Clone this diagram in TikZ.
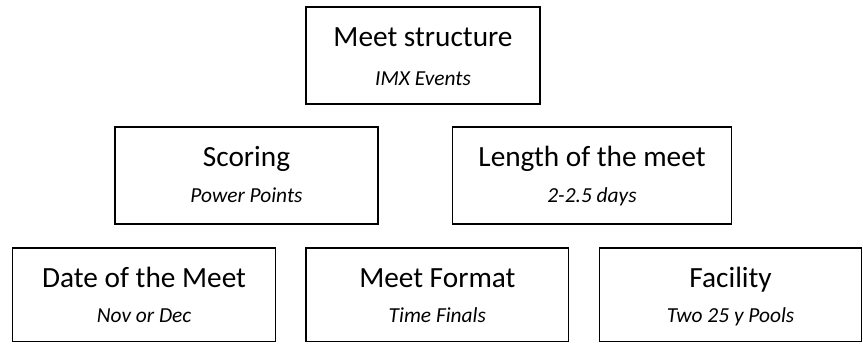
\documentclass[tikz,border=0pt]{standalone}
\usepackage{fontspec}
\setmainfont{Carlito}
\usetikzlibrary{fit}
\tikzset{
  boxst/.style={draw=black, line width=1.3pt, inner sep=0pt, rectangle},
  titlest/.style={anchor=base, inner sep=0pt, font=\fontsize{29.3}{32}\selectfont},
  subst/.style={anchor=base, inner sep=0pt, font=\fontsize{21.4}{24}\selectfont\itshape},
}
\newcommand\drawbox[8]{%
  \node[boxst, fit={(#2,#3) (#4,#5)}] (#1) {};
  \path (#1.north) ++(0,40) node[titlest] (#1t) {#6};
  \path (#1.north) ++(0,#8) node[subst] (#1s) {#7};
}
\begin{document}
\begin{tikzpicture}[x=1pt, y=-1pt]
\useasboundingbox (0,0) rectangle (863,344);
\drawbox{b1}{306}{7}{540}{104}{Meet structure}{IMX Events}{79}
\drawbox{b2}{115}{127}{378}{224}{Scoring}{Power Points}{76}
\drawbox{b3}{452.5}{127}{731.5}{224}{Length of the meet}{2-2.5 days}{76}
\drawbox{b4}{12.7}{248}{275.5}{341.5}{Date of the Meet}{Nov or Dec}{75}
\drawbox{b5}{306}{248}{568.7}{341.5}{Meet Format}{Time Finals}{75}
\drawbox{b6}{599.5}{248}{861.7}{341.5}{Facility}{Two 25 y Pools}{75}
\end{tikzpicture}
\end{document}
